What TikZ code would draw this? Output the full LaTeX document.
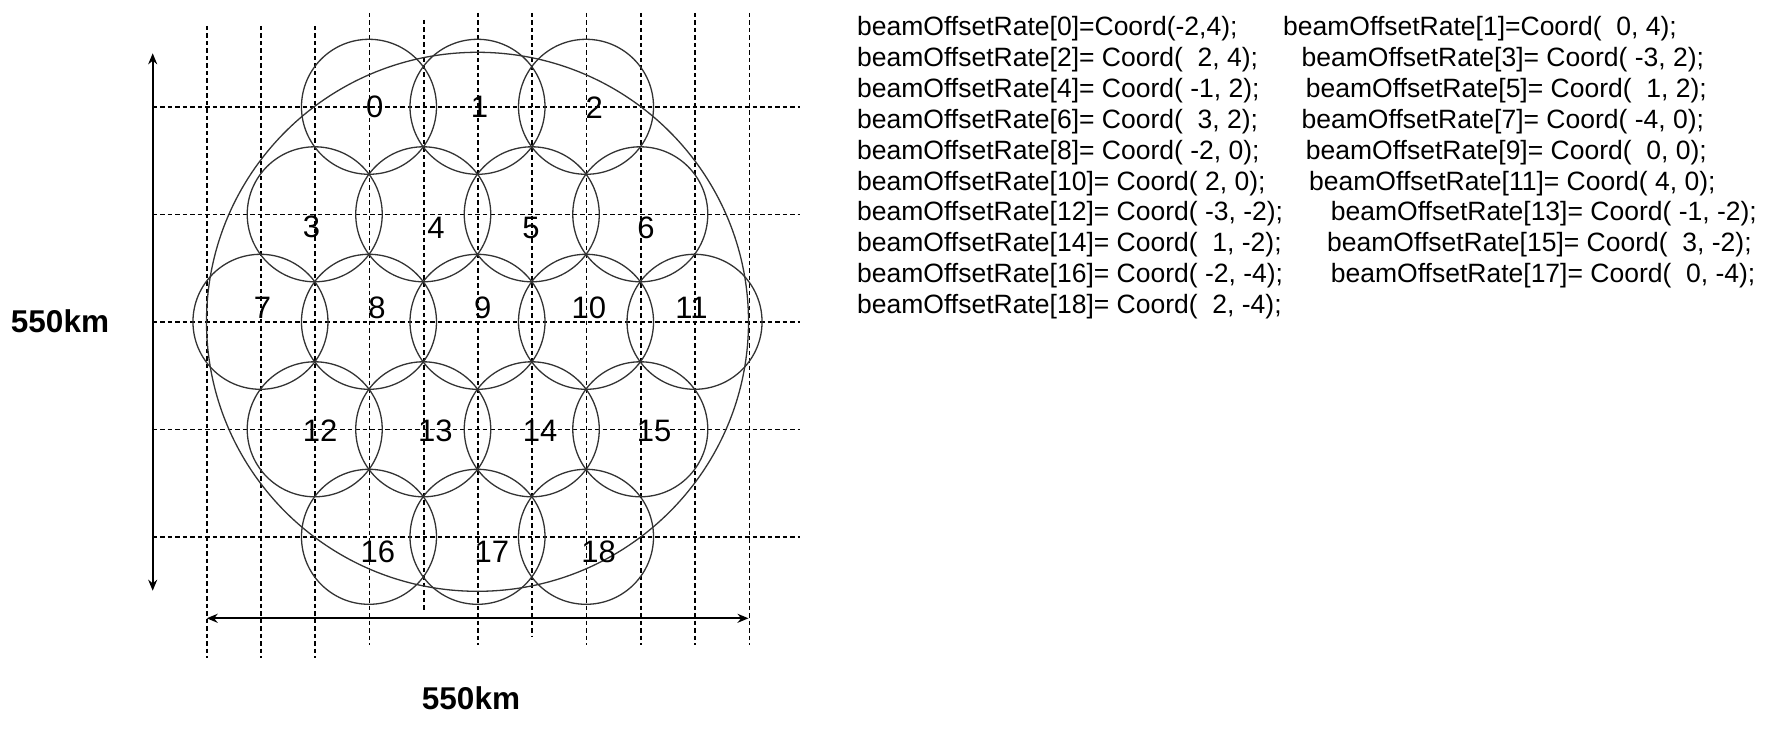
\documentclass[tikz,border=0pt]{standalone}
\usepackage{fontspec}
\setmainfont{Liberation Sans}
\usetikzlibrary{arrows.meta,shapes.geometric}
\tikzset{
  gridline/.style={draw=black, line width=1.6pt, dash pattern=on 4.5pt off 3pt},
  beam/.style={draw=black!80, line width=1.3pt, circle, minimum size=135pt, inner sep=0pt},
  cover/.style={draw=black!80, line width=1.3pt, ellipse, minimum width=542pt, minimum height=539pt, inner sep=0pt},
  dimarrow/.style={draw=black, line width=1.8pt, {Stealth[length=11pt,width=9pt]}-{Stealth[length=11pt,width=9pt]}},
  beamlabel/.style={font=\fontsize{31}{31}\selectfont, inner sep=0pt},
  codetext/.style={font=\fontsize{26.5}{31}\selectfont, anchor=base west, inner sep=0pt},
  dimlabel/.style={font=\fontsize{31.5}{32}\selectfont\bfseries, inner sep=0pt},
}
\begin{document}
\begin{tikzpicture}[x=1pt,y=-1pt]
\useasboundingbox (0,0) rectangle (1790,730);
% grid: horizontal dashed lines
\foreach \yy in {106.8,214.3,321.8,429.3,536.8}
  \draw[gridline] (152.7,\yy) -- (800,\yy);
% grid: vertical dashed lines (k / top / bottom)
\foreach \k/\yt/\yb in {0/26/658,1/26/658,2/26/658,3/13/645,4/20/612,5/13/645,6/13/637,7/13/645,8/13/645,9/13/645,10/13/645}
  \draw[gridline] ({206.7+54.26*\k},\yt) -- ({206.7+54.26*\k},\yb);
% coverage circle
\node[cover] (area) at (477.5,321.8) {};
% beams
\foreach \i/\cx/\cy in {0/-2/4,1/0/4,2/2/4,3/-3/2,4/-1/2,5/1/2,6/3/2,7/-4/0,8/-2/0,9/0/0,10/2/0,11/4/0,12/-3/-2,13/-1/-2,14/1/-2,15/3/-2,16/-2/-4,17/0/-4,18/2/-4}
  \node[beam] (c\i) at ({477.5+54.26*\cx},{321.8-53.75*\cy}) {};
% beam labels
\foreach \i/\lx/\ly in {0/374.8/106.7,1/479.6/106.7,2/594.2/108,3/311.5/226.7,4/435.9/228,5/530.9/227.7,6/645.9/228,7/262.4/308,8/377/308.3,9/482.7/308.3,10/588.8/308.3,11/691.4/308.3,12/320.2/430.7,13/435.3/430.7,14/540/430.7,15/654/430.7,16/377.8/551.7,17/491.8/551.7,18/598.5/551.7}
  \node[beamlabel] (l\i) at (\lx,\ly) {\i};
% dimension arrows
\coordinate (vtop) at (152.7,53.3);
\coordinate (vbot) at (152.7,590.7);
\coordinate (hleft) at (206.7,618.3);
\coordinate (hright) at (748.5,618.3);
\draw[dimarrow] (vtop) -- (vbot);
\draw[dimarrow] (hleft) -- (hright);
\node[dimlabel] (dimv) at (60,321) {550km};
\node[dimlabel] (dimh) at (471,698) {550km};
% code text
\node[codetext] (t0) at (857,36.0) {beamOffsetRate[0]=Coord(-2,4);};
\node[codetext] (t1) at (1283,36.0) {beamOffsetRate[1]=Coord(\ \ 0, 4);};
\node[codetext] (t2) at (857,66.8) {beamOffsetRate[2]= Coord(\ \ 2, 4);};
\node[codetext] (t3) at (1301.5,66.8) {beamOffsetRate[3]= Coord( -3, 2);};
\node[codetext] (t4) at (857,97.6) {beamOffsetRate[4]= Coord( -1, 2);};
\node[codetext] (t5) at (1305.7,97.6) {beamOffsetRate[5]= Coord(\ \ 1, 2);};
\node[codetext] (t6) at (857,128.4) {beamOffsetRate[6]= Coord(\ \ 3, 2);};
\node[codetext] (t7) at (1301.5,128.4) {beamOffsetRate[7]= Coord( -4, 0);};
\node[codetext] (t8) at (857,159.2) {beamOffsetRate[8]= Coord( -2, 0);};
\node[codetext] (t9) at (1305.7,159.2) {beamOffsetRate[9]= Coord(\ \ 0, 0);};
\node[codetext] (t10) at (857,190.0) {beamOffsetRate[10]= Coord( 2, 0);};
\node[codetext] (t11) at (1309,190.0) {beamOffsetRate[11]= Coord( 4, 0);};
\node[codetext] (t12) at (857,220.8) {beamOffsetRate[12]= Coord( -3, -2);};
\node[codetext] (t13) at (1330.7,220.8) {beamOffsetRate[13]= Coord( -1, -2);};
\node[codetext] (t14) at (857,251.6) {beamOffsetRate[14]= Coord(\ \ 1, -2);};
\node[codetext] (t15) at (1327,251.6) {beamOffsetRate[15]= Coord(\ \ 3, -2);};
\node[codetext] (t16) at (857,282.4) {beamOffsetRate[16]= Coord( -2, -4);};
\node[codetext] (t17) at (1330.7,282.4) {beamOffsetRate[17]= Coord(\ \ 0, -4);};
\node[codetext] (t18) at (857,313.2) {beamOffsetRate[18]= Coord(\ \ 2, -4);};
\end{tikzpicture}
\end{document}
